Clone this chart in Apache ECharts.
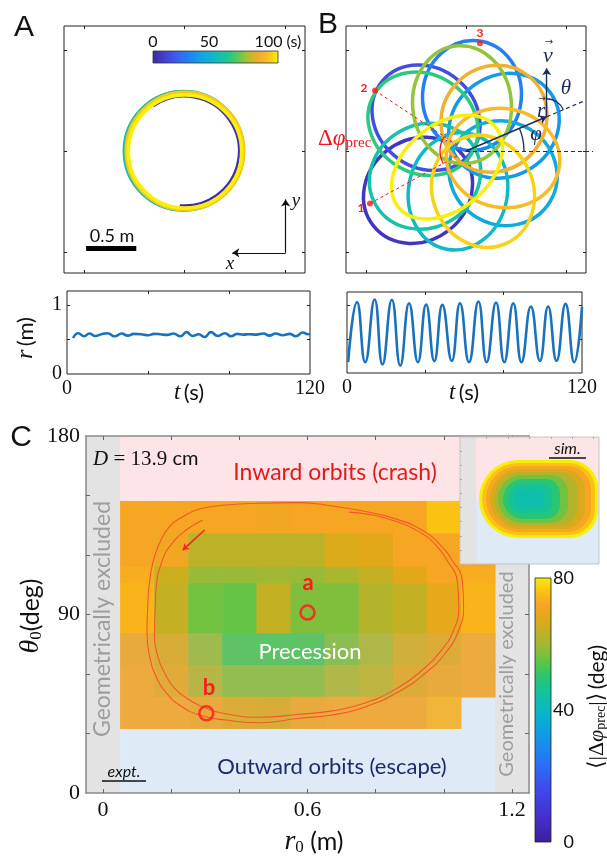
<!DOCTYPE html>
<html><head><meta charset="utf-8">
<script src="https://cdn.jsdelivr.net/npm/echarts@6/dist/echarts.min.js"></script>
<style>html,body{margin:0;padding:0;background:#fff}#c{width:607px;height:857px}</style>
</head><body><div id="c"></div>
<script>
// ---------------- DATA ----------------
// Panel A: laps of the circular orbit (time s, centre x m, centre y m, radius m, arc start deg, arc end deg)
const lapTime  = [2, 45, 62, 85, 93, 100];
const lapCx    = [0.0, -0.01, -0.005, 0.01, 0.005, 0.005];
const lapCy    = [0.0, 0.0, 0.005, 0.0, 0.0, -0.005];
const lapR     = [0.543, 0.588, 0.586, 0.575, 0.583, 0.563];
const lapFrom  = [125, 360, 360, 360, 360, 360];
const lapTo    = [-95, 0, 0, 0, 0, 0];
// Panel B: precessing loops (time s, centre, semi-axes along / across the radial direction, tilt deg)
const loopTime = [6, 14, 28, 36, 42, 48, 55, 62, 73, 86, 90, 95, 100];
const loopCx   = [-0.48, -0.40, 0.06, 0.38, 0.37, -0.08, -0.41, -0.43, -0.04, 0.28, 0.37, 0.17, -0.19];
const loopCy   = [-0.39, 0.33, 0.55, 0.25, -0.22, -0.40, -0.25, 0.27, 0.46, 0.32, -0.07, -0.40, -0.16];
const loopA    = [0.57, 0.57, 0.55, 0.57, 0.55, 0.59, 0.57, 0.57, 0.59, 0.55, 0.57, 0.57, 0.63];
const loopB    = [0.50, 0.49, 0.49, 0.50, 0.51, 0.49, 0.51, 0.49, 0.49, 0.51, 0.49, 0.50, 0.42];
const loopTilt = [219, 140, 84, 33, -31, -101, 211, 148, 95, 49, -11, -67, 220];
const apsisPts = [[-0.96, -0.52], [-0.91, 0.60], [0.14, 1.07]];
const apsisLabels = ['1', '2', '3'];
// r(t) traces
const rA_t = [3, 5.5, 8.5, 11, 14, 17, 20, 23.5, 27, 30, 33, 36.5, 40, 43, 46, 49.5, 52.5, 56, 59, 62, 65, 68, 71, 74.5, 78, 81, 84, 87, 90, 93.5, 97, 100, 103, 106.5, 110, 113, 116.5, 119, 120];
const rA_r = [0.52, 0.59, 0.545, 0.585, 0.55, 0.575, 0.59, 0.545, 0.585, 0.555, 0.58, 0.575, 0.56, 0.58, 0.575, 0.565, 0.585, 0.545, 0.605, 0.55, 0.575, 0.535, 0.605, 0.55, 0.59, 0.545, 0.58, 0.57, 0.575, 0.57, 0.585, 0.555, 0.585, 0.56, 0.58, 0.545, 0.6, 0.575, 0.58];
const rB_t = [0.6, 5.1, 9.3, 14.1, 18.1, 22.9, 27.2, 31.7, 36.2, 40.4, 44.6, 48.7, 53.5, 57.7, 62.3, 67.1, 71.3, 76.1, 80.3, 84.9, 89.1, 93.9, 98.5, 102.7, 107, 111.6, 116, 120];
const rB_r = [0.16, 1.05, 0.16, 1.09, 0.126, 1.085, 0.11, 1.034, 0.16, 1.014, 0.175, 1.01, 0.18, 1.034, 0.16, 1.06, 0.16, 1.044, 0.16, 1.034, 0.16, 0.985, 0.18, 0.985, 0.18, 1.024, 0.16, 0.98];
// Panel C: precession map
const r0Centers = [0.1, 0.2, 0.3, 0.4, 0.5, 0.6, 0.7, 0.8, 0.9, 1.0, 1.1];
const theta0Edges = [147.2, 130.9, 114.1, 105.7, 80.5, 64.5, 48.5, 32.6];
const precRows = [
  [72, 72, 72, 72, 71, 72, 72, 72, 72, 76, 72],
  [72, 71, 63, 63, 63, 63, 67, 68, 72, 72, 72],
  [73, 65, 59, 59, 60, 59, 61, 64, 68, 72, 73],
  [74, 64, 56, 55, 64, 57, 57, 62, 64, 69, 74],
  [71, 67, 59, 53, 53, 53, 57, 61, 66, 68, 72],
  [72, 69, 62, 58, 58, 58, 61, 63, 68, 71, 72],
  [72, 72, 71, 68, 67, 71, 72, 72, 72, 74, null]
];
const regimeRegions = [ // kind, r0 min, r0 max, theta0 min, theta0 max
  ['outward', 0.05, 1.15, 0, 147.2],
  ['inward', 0.05, 1.15, 147.2, 180],
  ['excluded', -0.05, 0.05, 0, 180],
  ['excluded', 1.15, 1.25, 0, 180]
];
const simRegions = [
  ['outward', 0.1, 1.25, 0, 90],
  ['inward', 0.1, 1.25, 90, 180],
  ['excluded', -0.05, 0.1, 0, 180]
];
const simLevels = [ // value, r0 min, r0 max, theta0 min, theta0 max
  [80, 0.128, 1.241, 36.8, 147.4],
  [76, 0.156, 1.213, 41.1, 143.2],
  [72, 0.193, 1.176, 45.4, 138.9],
  [67, 0.231, 1.12, 49.6, 134.7],
  [62, 0.268, 1.054, 53.9, 130.4],
  [56, 0.306, 0.961, 58.1, 126.2],
  [50, 0.353, 0.886, 63.8, 120.5],
  [46, 0.40, 0.811, 70.9, 113.4],
  [43, 0.456, 0.736, 79.4, 106.3]
];
const orbitOuter = [[0.771,141.9],[0.673,144.7],[0.576,146.4],[0.459,146.1],[0.361,145.2],[0.283,143.2],[0.234,139.3],[0.195,134.3],[0.166,126.1],[0.146,116.0],[0.135,104.0],[0.132,97.3],[0.129,80.7],[0.137,68.7],[0.156,58.6],[0.186,50.4],[0.224,44.4],[0.283,39.3],[0.361,36.8],[0.459,35.4],[0.576,37.7],[0.672,39.3],[0.771,43.5],[0.868,51.1],[0.946,60.5],[1.005,70.6],[1.044,82.2],[1.058,93.9],[1.054,107.4],[1.024,117.5],[0.985,125.9],[0.936,132.6],[0.868,137.7],[0.771,141.9]];
const orbitInner = [[0.293,137.7],[0.244,132.6],[0.195,124.2],[0.171,115.8],[0.156,104.0],[0.154,97.3],[0.151,80.5],[0.161,68.7],[0.181,60.4],[0.210,52.8],[0.254,46.9],[0.303,42.7],[0.380,39.3],[0.459,38.2],[0.576,39.7],[0.673,41.4],[0.771,45.5],[0.868,53.3],[0.937,62.0],[0.990,71.3],[1.029,82.2],[1.044,93.9],[1.039,107.4],[1.012,116.6],[0.976,125.1],[0.927,131.8],[0.863,136.8],[0.790,140.2],[0.722,141.6]];
const orbitArrow = [[0.298, 132.6], [0.234, 122.5]];
const markedOrbits = [[0.6, 91], [0.303, 40.2]];
// annotation geometry (data units)
const scaleBarA = [[-0.98, -0.966], [-0.48, -0.966]];
const frameArrowsA = [[[1.007, -1.01], [1.007, -0.48]], [[1.007, -1.01], [0.476, -1.01]]];
const vectorsB = [[[0, 0], [0.807, 0.34]], [[0.807, 0.34], [0.807, 0.82]]];
const guidesB = [[[0, 0], [1.27, 0]], [[0.807, 0.34], [1.19, 0.50]]];
const precLinesB = [[[-0.96, -0.52], [0, 0]], [[-0.91, 0.60], [0, 0]]];
const anglesB = [[0, 0, 0.58, 0, 23, 'navy'], [0.807, 0.34, 0.18, 23, 90, 'navy'], [0, 0, 0.26, 146, 209, 'red']];
// colour maps
const cmapC = [[0,'#3b1f9b'],[8,'#4530cf'],[16,'#4049ec'],[24,'#2a72f5'],[30,'#168fee'],[35,'#0aa7dc'],[40,'#0bb8c3'],[45,'#13c29f'],[50,'#28c672'],[53,'#4ac552'],[56,'#72c23f'],[59,'#98ba36'],[62,'#b4b42c'],[65,'#ccae1e'],[68,'#e2a81a'],[72,'#f6a623'],[76,'#fbc214'],[80,'#f7ee0a']];
const cmapT = [[0,'#3c2a9c'],[10,'#4540d4'],[20,'#3a62f0'],[30,'#1e86f2'],[40,'#12a6e2'],[50,'#0fbcc2'],[60,'#1ec88e'],[68,'#5cc858'],[75,'#a8c232'],[82,'#e0b02a'],[88,'#f8b22e'],[94,'#f8cc1c'],[100,'#f8f00c']];
const cbarTicksC = [0, 40, 80];
const cbarTicksT = ['0', '50', '100 (s)'];

// ---------------- HELPERS ----------------
const serif = '"Liberation Serif", "DejaVu Serif", serif';
const sans = 'Lato, "Open Sans", sans-serif';
const NAVY = '#1c2b5e', RED = '#ff1a1a';
const regionFill = {inward: '#fde4e6', outward: '#deebf6', excluded: '#e3e3e3'};
function hex2rgb(h){return [1,3,5].map(i=>parseInt(h.slice(i,i+2),16));}
function mapColors(stops, n){
  const vmin = stops[0][0], vmax = stops[stops.length-1][0], out = [];
  for (let i=0;i<n;i++){
    const v = vmin + (vmax-vmin)*i/(n-1); let k=0;
    while (k<stops.length-2 && v>stops[k+1][0]) k++;
    const f = (v-stops[k][0])/(stops[k+1][0]-stops[k][0]);
    const a = hex2rgb(stops[k][1]), b = hex2rgb(stops[k+1][1]);
    out.push('rgb('+a.map((x,j)=>Math.round(x+(b[j]-x)*f)).join(',')+')');
  }
  return out;
}
function gradStops(stops){const v0=stops[0][0], v1=stops[stops.length-1][0]; return stops.map(s=>({offset:(s[0]-v0)/(v1-v0), color:s[1]}));}

function ax(gridIndex, position, min, max, ticks, labels, extra){
  const o = {
    type:'value', gridIndex, position, min, max,
    splitLine:{show:false},
    axisLine:{show:false, onZero:false},
    axisTick:{show: ticks.length>0, inside:true, length:3, customValues: ticks, lineStyle:{color:'#222', width:1}},
    axisLabel:{show: labels.length>0, customValues: labels, fontFamily: serif, fontSize: 20, color:'#111', margin: 5, showMinLabel:true, showMaxLabel:true}
  };
  if (extra) {
    for (const k in extra) {
      if (typeof extra[k]==='object' && !Array.isArray(extra[k]) && o[k]) o[k] = Object.assign({}, o[k], extra[k]);
      else o[k] = extra[k];
    }
  }
  return o;
}
const cTicksX = [0,0.2,0.4,0.6,0.8,1.0,1.2], cTicksY = [30,60,90,120,150];
const cAxisExtra = {z:6, axisLine:{show:true, onZero:false, lineStyle:{color:'#8a8a8a', width:1.5}}, axisTick:{length:4, lineStyle:{color:'#666', width:1}}, axisLabel:{fontSize:22, margin:6}};
const insetExtra = {z:12, axisTick:{length:2, lineStyle:{color:'#aaa', width:1}}};

const xAxis = [
  ax(0,'bottom',-1.2,1.2,[-1,0,1],[]), ax(0,'top',-1.2,1.2,[-1,0,1],[]),
  ax(1,'bottom',-1.2,1.2,[-1,0,1],[]), ax(1,'top',-1.2,1.2,[-1,0,1],[]),
  ax(2,'bottom',0,120,[40,80],[0,120]), ax(2,'top',0,120,[40,80],[]),
  ax(3,'bottom',0,120,[40,80],[0,120]), ax(3,'top',0,120,[40,80],[]),
  ax(4,'bottom',-0.05,1.25,cTicksX,[0,0.6,1.2],cAxisExtra), ax(4,'top',-0.05,1.25,cTicksX,[],cAxisExtra),
  ax(5,'bottom',-0.05,1.25,[],[],{z:12}), ax(5,'top',-0.05,1.25,[0.2,0.4,0.6,0.8,1.0,1.2],[],insetExtra),
  ax(6,'bottom',0,1,[],[])
];
const yAxis = [
  ax(0,'left',-1.21,1.24,[-1,0,1],[]), ax(0,'right',-1.21,1.24,[-1,0,1],[]),
  ax(1,'left',-1.21,1.24,[-1,0,1],[]), ax(1,'right',-1.21,1.24,[-1,0,1],[]),
  ax(2,'left',0,1.2,[0.5,1],[0,1]), ax(2,'right',0,1.2,[0.5,1],[]),
  ax(3,'left',0,1.2,[0.5,1],[]), ax(3,'right',0,1.2,[0.5,1],[]),
  ax(4,'left',0,180,cTicksY,[0,90,180],cAxisExtra), ax(4,'right',0,180,cTicksY,[],cAxisExtra),
  ax(5,'left',0,180,[20,40,60,80,100,120,140,160],[],insetExtra), ax(5,'right',0,180,[],[],{z:12}),
  ax(6,'right',0,80,[],cbarTicksC,{axisLabel:{fontFamily:sans, fontSize:18, align:'right', margin:23}})
];

// ---------------- SERIES ----------------
const series = [];
function add(s){series.push(s); return series.length-1;}
function rectBetween(api, x1, y1, x2, y2){
  const a = api.coord([x1, y2]), b = api.coord([x2, y1]);
  return {x:a[0], y:a[1], width:b[0]-a[0], height:b[1]-a[1]};
}

// Panel A laps
const idxLaps = add({
  type:'custom', xAxisIndex:0, yAxisIndex:0, z:3, silent:true,
  data: lapTime.map((t,i)=>[t, lapCx[i], lapCy[i], lapR[i], lapFrom[i], lapTo[i]]),
  encode:{x:1, y:2},
  renderItem(p, api){
    const c = api.coord([api.value(1), api.value(2)]);
    const s = api.size([api.value(3), api.value(3)]);
    return {type:'arc', shape:{cx:c[0], cy:c[1], r:(s[0]+s[1])/2, startAngle:-api.value(4)*Math.PI/180, endAngle:-api.value(5)*Math.PI/180, clockwise:true},
      style:{fill:null, stroke:api.visual('color'), lineWidth: p.dataIndex===0 ? 2.6 : 3.6}};
  }
});
add({type:'lines', coordinateSystem:'cartesian2d', xAxisIndex:0, yAxisIndex:0, z:5, silent:true, clip:false,
  data:[{coords:scaleBarA}], symbol:['none','none'], lineStyle:{color:'#000', width:5, opacity:1}});
add({type:'lines', coordinateSystem:'cartesian2d', xAxisIndex:0, yAxisIndex:0, z:5, silent:true, clip:false,
  data: frameArrowsA.map(c=>({coords:c})), symbol:['none','arrow'], symbolSize:7, lineStyle:{color:'#111', width:1.2, opacity:1}});

// Panel B loops
const idxLoops = add({
  type:'custom', xAxisIndex:2, yAxisIndex:2, z:3, silent:true,
  data: loopTime.map((t,i)=>[t, loopCx[i], loopCy[i], loopA[i], loopB[i], loopTilt[i]]),
  encode:{x:1, y:2},
  renderItem(p, api){
    const c = api.coord([api.value(1), api.value(2)]);
    const s = api.size([api.value(3), api.value(4)]);
    return {type:'ellipse', x:c[0], y:c[1], rotation: api.value(5)*Math.PI/180,
      shape:{cx:0, cy:0, rx:s[0], ry:s[1]}, style:{fill:null, stroke:api.visual('color'), lineWidth:3.5}};
  }
});
add({type:'lines', coordinateSystem:'cartesian2d', xAxisIndex:2, yAxisIndex:2, z:5, silent:true, clip:false,
  data: precLinesB.map(c=>({coords:c})), symbol:['none','none'], lineStyle:{color:'#f0141e', width:1, type:[3,3], opacity:1}});
add({type:'lines', coordinateSystem:'cartesian2d', xAxisIndex:2, yAxisIndex:2, z:5, silent:true, clip:false,
  data: guidesB.map(c=>({coords:c})), symbol:['none','none'], lineStyle:{color:NAVY, width:1.2, type:[4,3], opacity:1}});
add({type:'lines', coordinateSystem:'cartesian2d', xAxisIndex:2, yAxisIndex:2, z:6, silent:true, clip:false,
  data: vectorsB.map(c=>({coords:c})), symbol:['none','arrow'], symbolSize:7, lineStyle:{color:NAVY, width:1.4, opacity:1}});
add({type:'custom', xAxisIndex:2, yAxisIndex:2, z:6, silent:true, data: anglesB.map(a=>a.slice(0,5)), encode:{x:0,y:1},
  renderItem(p, api){
    const c = api.coord([api.value(0), api.value(1)]);
    const s = api.size([api.value(2), api.value(2)]);
    return {type:'arc', shape:{cx:c[0], cy:c[1], r:s[0], startAngle:-api.value(3)*Math.PI/180, endAngle:-api.value(4)*Math.PI/180, clockwise:false},
      style:{fill:null, stroke: anglesB[p.dataIndex][5]==='red' ? '#f0141e' : NAVY, lineWidth:1.3}};
  }});
add({type:'scatter', xAxisIndex:2, yAxisIndex:2, z:7, silent:true, data: apsisPts, symbolSize:6, itemStyle:{color:RED}});

// r(t)
add({type:'line', xAxisIndex:4, yAxisIndex:4, data: rA_t.map((t,i)=>[t, rA_r[i]]), smooth:true, showSymbol:false, lineStyle:{color:'#1a72bd', width:2.6}, silent:true});
add({type:'line', xAxisIndex:6, yAxisIndex:6, data: rB_t.map((t,i)=>[t, rB_r[i]]), smooth:true, showSymbol:false, lineStyle:{color:'#1a72bd', width:2.6}, silent:true});

// Panel C regions
function regionSeries(list, xi, yi, z){
  return {type:'custom', xAxisIndex:xi, yAxisIndex:yi, z, silent:true,
    data: list.map(d=>[d[1], d[3], d[2], d[4]]), encode:{x:0, y:1},
    renderItem(p, api){
      return {type:'rect', shape: rectBetween(api, api.value(0), api.value(1), api.value(2), api.value(3)),
        style:{fill: regionFill[list[p.dataIndex][0]]}};
    }};
}
add(regionSeries(regimeRegions, 8, 8, 1));
const cellData = [];
precRows.forEach((row,i)=>row.forEach((v,j)=>{ if (v!=null) cellData.push([v, r0Centers[j], theta0Edges[i+1], theta0Edges[i]]); }));
const halfW = (r0Centers[1]-r0Centers[0])/2;
const idxCells = add({type:'custom', xAxisIndex:8, yAxisIndex:8, z:2, silent:true, data: cellData, encode:{x:1, y:2},
  renderItem(p, api){
    const r = rectBetween(api, api.value(1)-halfW, api.value(2), api.value(1)+halfW, api.value(3));
    r.width += 0.6; r.height += 0.6;
    const children = [{type:'rect', shape:r, style:{fill: api.visual('color')}}];
    if (api.value(3) < 81) children.push({type:'rect', shape:r, style:{fill:'rgba(195,190,200,0.17)'}});
    return {type:'group', children};
  }});
add({type:'line', xAxisIndex:8, yAxisIndex:8, z:3, data: orbitOuter, smooth:0.5, showSymbol:false, silent:true, lineStyle:{color:'#f2582a', width:1.1}});
add({type:'line', xAxisIndex:8, yAxisIndex:8, z:3, data: orbitInner, smooth:0.5, showSymbol:false, silent:true, lineStyle:{color:'#f2582a', width:1.1}});
add({type:'lines', coordinateSystem:'cartesian2d', xAxisIndex:8, yAxisIndex:8, z:4, silent:true, clip:false,
  data:[{coords:orbitArrow}], symbol:['none','arrow'], symbolSize:6, lineStyle:{color:'#ec2a1e', width:1.6, opacity:1}});
add({type:'scatter', xAxisIndex:8, yAxisIndex:8, z:4, silent:true, data: markedOrbits, symbolSize:14,
  itemStyle:{color:'rgba(0,0,0,0)', borderColor:RED, borderWidth:2.6}});

// inset (simulation)
add(regionSeries(simRegions, 10, 10, 10));
const idxBlob = add({type:'custom', xAxisIndex:10, yAxisIndex:10, z:11, silent:true, data: simLevels, encode:{x:1, y:3},
  renderItem(p, api){
    const r = rectBetween(api, api.value(1), api.value(3), api.value(2), api.value(4));
    const m = Math.min(r.width, r.height);
    r.r = [m*0.5, m*0.36, m*0.36, m*0.5];
    return {type:'rect', shape:r, style:{fill: api.visual('color')}};
  }});
add({type:'custom', xAxisIndex:10, yAxisIndex:10, z:12, silent:true, data:[[-0.05, 0, 1.25, 180]], encode:{x:0,y:1},
  renderItem(p, api){
    return {type:'rect', shape: rectBetween(api, api.value(0), api.value(1), api.value(2), api.value(3)), style:{fill:null, stroke:'#c4c4c4', lineWidth:1}};
  }});

// colour bar for C
add({type:'custom', xAxisIndex:12, yAxisIndex:12, z:5, silent:true, data:[[0, cbarTicksC[0], 1, cbarTicksC[2]]], encode:{x:0,y:1},
  renderItem(p, api){
    return {type:'rect', shape: rectBetween(api, api.value(0), api.value(1), api.value(2), api.value(3)),
      style:{fill:{type:'linear', x:0, y:1, x2:0, y2:0, colorStops: gradStops(cmapC)}, stroke:'#222', lineWidth:0.8}};
  }});

// ---------------- TEXT ----------------
function txt(x, y, text, st, extra){
  return Object.assign({type:'text', x, y, z:100, silent:true, style:Object.assign({text, fill:'#111', align:'center', verticalAlign:'middle'}, st)}, extra||{});
}
const graphic = [
  txt(24, 28, 'A', {fontFamily:'"Liberation Sans", Arial, sans-serif', fontSize:30}),
  txt(328, 25, 'B', {fontFamily:'"Liberation Sans", Arial, sans-serif', fontSize:30}),
  txt(21, 438, 'C', {fontFamily:'"Liberation Sans", Arial, sans-serif', fontSize:30}),
  // A colour bar
  {type:'rect', z:100, silent:true, shape:{x:153, y:51, width:125, height:12},
    style:{fill:{type:'linear', x:0, y:0, x2:1, y2:0, colorStops: gradStops(cmapT)}, stroke:'#333', lineWidth:0.8}},
  txt(153, 42, cbarTicksT[0], {fontFamily:sans, fontSize:16}),
  txt(209, 42, cbarTicksT[1], {fontFamily:sans, fontSize:16}),
  txt(278, 42, cbarTicksT[2], {fontFamily:sans, fontSize:16}),
  txt(112, 236, '0.5 m', {fontFamily:sans, fontSize:18}),
  txt(296, 201, 'y', {fontFamily:serif, fontStyle:'italic', fontSize:19}),
  txt(230, 264, 'x', {fontFamily:serif, fontStyle:'italic', fontSize:19}),
  // B
  txt(361, 208, apsisLabels[0], {fontFamily:sans, fontWeight:'bold', fontSize:12, fill:RED}),
  txt(364, 88, apsisLabels[1], {fontFamily:sans, fontWeight:'bold', fontSize:12, fill:RED}),
  txt(480, 33, apsisLabels[2], {fontFamily:sans, fontWeight:'bold', fontSize:12, fill:RED}),
  txt(318, 139, '{u|Δ}{i|φ}{b|prec}', {align:'left', rich:{u:{fontFamily:serif, fontSize:23, fill:'#f0141e'}, i:{fontFamily:serif, fontStyle:'italic', fontSize:23, fill:'#f0141e'}, b:{fontFamily:serif, fontSize:15, fill:'#f0141e', verticalAlign:'bottom'}}}),
  txt(548, 56, 'v', {fontFamily:serif, fontStyle:'italic', fontSize:22, fill:NAVY}),
  txt(549, 42, '→', {fontFamily:'"DejaVu Sans"', fontSize:10, fill:NAVY}),
  txt(541, 111, 'r', {fontFamily:serif, fontStyle:'italic', fontSize:21, fill:NAVY}),
  txt(542, 99, '→', {fontFamily:'"DejaVu Sans"', fontSize:9, fill:NAVY}),
  txt(566, 88, 'θ', {fontFamily:serif, fontStyle:'italic', fontSize:21, fill:NAVY}),
  txt(536, 134, 'φ', {fontFamily:serif, fontStyle:'italic', fontSize:21, fill:NAVY}),
  // r(t) labels
  txt(26, 338, '{i|r} {n|(m)}', {rich:{i:{fontFamily:serif, fontStyle:'italic', fontSize:24, fill:'#111'}, n:{fontFamily:sans, fontSize:22, fill:'#111'}}}, {rotation:Math.PI/2}),
  txt(189, 393, '{i|t} {n|(s)}', {rich:{i:{fontFamily:serif, fontStyle:'italic', fontSize:23, fill:'#111'}, n:{fontFamily:sans, fontSize:22, fill:'#111'}}}),
  txt(464, 393, '{i|t} {n|(s)}', {rich:{i:{fontFamily:serif, fontStyle:'italic', fontSize:23, fill:'#111'}, n:{fontFamily:sans, fontSize:22, fill:'#111'}}}),
  // C
  txt(93, 459, '{i|D}{s| = 13.9 }{n|cm}', {align:'left', rich:{i:{fontFamily:serif, fontStyle:'italic', fontSize:21, fill:'#111'}, s:{fontFamily:serif, fontSize:21, fill:'#111'}, n:{fontFamily:sans, fontSize:20, fill:'#111'}}}),
  txt(335, 473, 'Inward orbits (crash)', {fontFamily:sans, fontSize:23, fill:'#e31a1c'}),
  txt(310, 652, 'Precession', {fontFamily:sans, fontSize:22, fill:'#ffffff'}),
  txt(332, 767, 'Outward orbits (escape)', {fontFamily:sans, fontSize:22, fill:'#1b2a6b'}),
  txt(308, 583, 'a', {fontFamily:sans, fontWeight:'bold', fontSize:22, fill:RED}),
  txt(209, 688, 'b', {fontFamily:sans, fontWeight:'bold', fontSize:22, fill:RED}),
  txt(124, 772, 'expt.', {fontFamily:sans, fontStyle:'italic', fontSize:16}),
  {type:'line', z:100, silent:true, shape:{x1:102, y1:781, x2:146, y2:781}, style:{stroke:'#111', lineWidth:1.3}},
  txt(567.5, 449, 'sim.', {fontFamily:sans, fontStyle:'italic', fontSize:16}),
  {type:'line', z:100, silent:true, shape:{x1:549, y1:458, x2:586, y2:458}, style:{stroke:'#111', lineWidth:1.3}},
  txt(103, 619, 'Geometrically excluded', {fontFamily:sans, fontSize:23, fill:'#9e9e9e'}, {rotation:Math.PI/2}),
  txt(507, 674, 'Geometrically excluded', {fontFamily:sans, fontSize:20, fill:'#9e9e9e'}, {rotation:Math.PI/2}),
  txt(314, 842, '{i|r}{s|0}{n| (m)}', {rich:{i:{fontFamily:serif, fontStyle:'italic', fontSize:28, fill:'#111'}, s:{fontFamily:serif, fontSize:17, fill:'#111', verticalAlign:'bottom'}, n:{fontFamily:sans, fontSize:25, fill:'#111'}}}),
  txt(31, 616, '{i|θ}{s|0}{n|(deg)}', {rich:{i:{fontFamily:serif, fontStyle:'italic', fontSize:28, fill:'#111'}, s:{fontFamily:serif, fontSize:17, fill:'#111', verticalAlign:'bottom'}, n:{fontFamily:sans, fontSize:25, fill:'#111'}}}, {rotation:Math.PI/2}),
  txt(597, 707, '{s|⟨|Δ}{i|φ}{b|prec}{s||⟩} {n|(deg)}', {rich:{s:{fontFamily:serif, fontSize:22, fill:'#111'}, i:{fontFamily:serif, fontStyle:'italic', fontSize:22, fill:'#111'}, b:{fontFamily:serif, fontSize:14, fill:'#111', verticalAlign:'bottom'}, n:{fontFamily:sans, fontSize:21, fill:'#111'}}}, {rotation:Math.PI/2})
];

const option = {
  animation:false,
  backgroundColor:'#fff',
  grid:[
    {left:64, top:26, width:241, height:247, show:true, borderColor:'#222', borderWidth:1},
    {left:346, top:26, width:240, height:247, show:true, borderColor:'#222', borderWidth:1},
    {left:67, top:291, width:243, height:83, show:true, borderColor:'#222', borderWidth:1},
    {left:347, top:292, width:235, height:81, show:true, borderColor:'#222', borderWidth:1},
    {left:86, top:436, width:443, height:357},
    {left:460, top:437, width:139, height:127},
    {left:535, top:578, width:16, height:264}
  ],
  xAxis, yAxis,
  visualMap:[
    {type:'continuous', show:false, min:0, max:80, dimension:0, seriesIndex:[idxCells, idxBlob], inRange:{color: mapColors(cmapC, 81)}},
    {type:'continuous', show:false, min:0, max:100, dimension:0, seriesIndex:[idxLaps, idxLoops], inRange:{color: mapColors(cmapT, 101)}}
  ],
  series, graphic
};
const chart = echarts.init(document.getElementById('c'), null, {renderer:'canvas'});
chart.setOption(option);
</script></body></html>
